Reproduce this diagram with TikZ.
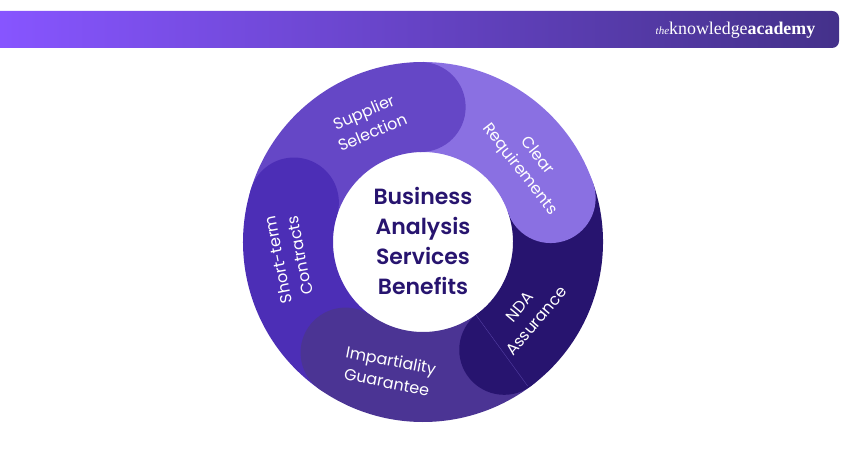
\documentclass[tikz,border=0pt]{standalone}
\usepackage{fontspec}
\setmainfont[BoldFont={Poppins SemiBold}]{Poppins}
\newfontfamily\logofont{Liberation Serif}
\definecolor{cSup}{HTML}{6547C6}
\definecolor{cClr}{HTML}{8A70E2}
\definecolor{cNda}{HTML}{27146F}
\definecolor{cImp}{HTML}{4B3494}
\definecolor{cSho}{HTML}{4C2EB6}
\definecolor{barL}{HTML}{8755FF}
\definecolor{barR}{HTML}{44318A}
\tikzset{
  x=1pt,y=1pt,
  seglabel/.style={text=white,align=center,font=\fontsize{16}{22}\selectfont,inner sep=0pt},
  hub/.style={text=cNda,font=\fontsize{22}{29.7}\selectfont\bfseries,align=center,inner sep=0pt}
}
% #1 colour, #2 start angle, #3 end angle
\newcommand{\ringsector}[3]{\fill[#1] (#2:180) arc[start angle=#2,end angle=#3,radius=180pt] -- (#3:90) arc[start angle=#3,end angle=#2,radius=90pt] -- cycle;}
\newcommand{\ringcap}[2]{\fill[#1] (#2:135) circle[radius=45pt];}
\begin{document}
\begin{tikzpicture}
\useasboundingbox (0,0) rectangle (850,450);
% top bar
\begin{scope}
\clip (0,402) -- (0,439) -- (832,439) arc[start angle=90,end angle=0,radius=7pt] -- (839,409) arc[start angle=0,end angle=-90,radius=7pt] -- cycle;
\shade[left color=barL,right color=barR] (0,402) rectangle (839,439);
\end{scope}
\node[anchor=base west,inner sep=0pt,text=white] (logo) at (655.5,415) {\logofont\fontsize{17.9}{17.9}\selectfont{\fontsize{11}{11}\selectfont\itshape the}knowledge\textbf{academy}};
% ring
\begin{scope}[shift={(423,208)}]
\ringsector{cSup}{163}{91}
\ringsector{cClr}{91}{19}
\ringsector{cNda}{19}{-53}
\ringsector{cImp}{-53}{-125}
\ringsector{cSho}{-125}{-197}
\ringcap{cSup}{91}
\ringcap{cClr}{19}
\ringcap{cNda}{-53}
\ringcap{cImp}{-125}
\ringcap{cSho}{163}
\draw[color=cClr!55!cNda,line width=0.3pt] (-54:90) -- (-54:178);
\node[hub] (hubtext) at (0,1) {Business\\Analysis\\Services\\Benefits};
\end{scope}
\node[seglabel,rotate=23] (sup) at (368,328) {Supplier\\Selection};
\node[seglabel,rotate=-52] (clr) at (528,287) {Clear\\Requirements};
\node[seglabel,rotate=50] (nda) at (528,136) {NDA\\Assurance};
\node[seglabel,rotate=-11] (imp) at (389,79) {Impartiality\\Guarantee};
\node[seglabel,rotate=101] (sho) at (289,192.5) {Short-term\\Contracts};
\end{tikzpicture}
\end{document}
